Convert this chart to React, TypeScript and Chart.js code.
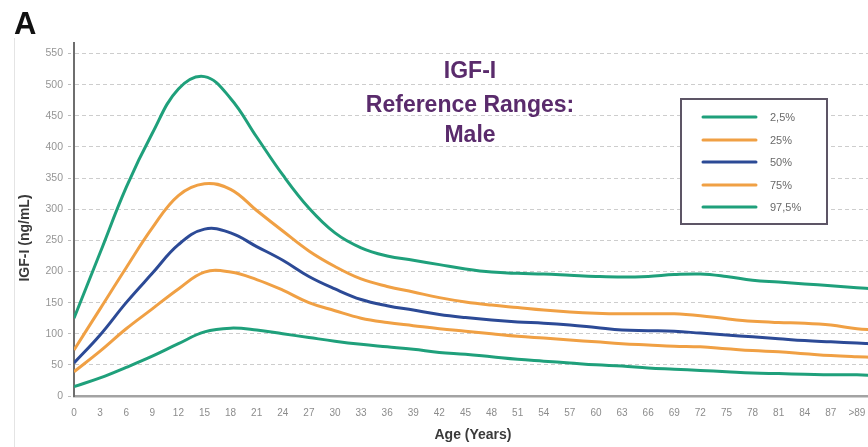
import React, { useEffect, useRef } from "react";
import { Chart, registerables } from "chart.js";

Chart.register(...registerables);

// ---- data ----
const AGES = [0, 3, 6, 9, 12, 15, 18, 21, 24, 27, 30, 33, 36, 39, 42, 45, 48, 51, 54, 57, 60, 63, 66, 69, 72, 75, 78, 81, 84, 87, 90, 92];
const P2_5 = [15, 29, 46, 64, 84, 103, 109, 106, 100, 94, 88, 83, 79, 75, 70, 67, 63, 59, 56, 53, 50, 48, 45, 43, 41, 39, 37, 36, 35, 34, 34, 33];
const P25 = [39, 72, 108, 140, 172, 199, 199, 187, 170, 150, 137, 125, 118, 113, 108, 104, 100, 96, 93, 90, 87, 84, 82, 80, 79, 76, 73, 71, 68, 65, 63, 62];
const P50 = [53, 98, 150, 197, 243, 268, 262, 240, 218, 192, 172, 155, 145, 138, 131, 126, 122, 119, 117, 114, 110, 106, 105, 104, 101, 98, 95, 92, 89, 87, 85, 84];
const P75 = [74, 140, 206, 270, 322, 341, 332, 298, 265, 233, 208, 188, 176, 167, 158, 151, 146, 142, 138, 135, 133, 132, 132, 132, 129, 124, 120, 118, 117, 114, 108, 106];
const P97_5 = [125, 230, 335, 422, 493, 513, 478, 416, 355, 302, 262, 238, 225, 218, 211, 204, 199, 197, 196, 194, 192, 191, 192, 195, 196, 192, 186, 183, 180, 177, 174, 172];

const SERIES_LABELS = ["2,5%", "25%", "50%", "75%", "97,5%"];
const X_TICKS = [0, 3, 6, 9, 12, 15, 18, 21, 24, 27, 30, 33, 36, 39, 42, 45, 48, 51, 54, 57, 60, 63, 66, 69, 72, 75, 78, 81, 84, 87, 90];
const X_TICK_LABELS = ["0", "3", "6", "9", "12", "15", "18", "21", "24", "27", "30", "33", "36", "39", "42", "45", "48", "51", "54", "57", "60", "63", "66", "69", "72", "75", "78", "81", "84", "87", ">89"];
const Y_TICKS = [0, 50, 100, 150, 200, 250, 300, 350, 400, 450, 500, 550];
const TITLE_LINES = ["IGF-I", "Reference Ranges:", "Male"];
const PANEL_LETTER = "A";
const X_TITLE = "Age (Years)";
const Y_TITLE = "IGF-I (ng/mL)";

const GREEN = "#1fa07b";
const ORANGE = "#f0a044";
const BLUE = "#2c4a96";
const FONT = '"Liberation Sans", Arial, sans-serif';

const overlay = {
  id: "overlay",
  afterDraw(chart: any) {
    const ctx = chart.ctx as CanvasRenderingContext2D;
    ctx.save();
    // faint panel edge
    ctx.strokeStyle = "#e4e4e4";
    ctx.lineWidth = 1;
    ctx.beginPath();
    ctx.moveTo(14.5, 38);
    ctx.lineTo(14.5, 447);
    ctx.stroke();

    // panel letter
    ctx.fillStyle = "#111";
    ctx.font = `bold 31px ${FONT}`;
    ctx.textAlign = "left";
    ctx.textBaseline = "alphabetic";
    ctx.fillText(PANEL_LETTER, 14, 34);

    // title
    ctx.fillStyle = "#5a2b6c";
    ctx.font = `bold 23px ${FONT}`;
    ctx.textAlign = "center";
    ctx.textBaseline = "middle";
    const ty = [72, 106, 136];
    TITLE_LINES.forEach((t, i) => ctx.fillText(t, 470, ty[i]));

    // axis titles
    ctx.fillStyle = "#3a3a3a";
    ctx.font = `bold 14px ${FONT}`;
    ctx.fillText(X_TITLE, 473, 435);
    ctx.save();
    ctx.translate(25, 238);
    ctx.rotate(-Math.PI / 2);
    ctx.fillText(Y_TITLE, 0, 0);
    ctx.restore();

    // legend
    const bx = 681, by = 99, bw = 146, bh = 125;
    ctx.fillStyle = "#ffffff";
    ctx.fillRect(bx, by, bw, bh);
    ctx.strokeStyle = "#5d5566";
    ctx.lineWidth = 2;
    ctx.strokeRect(bx, by, bw, bh);
    const rows = [117, 140, 162, 185, 207];
    ctx.font = `11px ${FONT}`;
    ctx.textAlign = "left";
    ctx.textBaseline = "middle";
    chart.data.datasets.forEach((ds: any, i: number) => {
      const y = rows[i];
      ctx.strokeStyle = ds.borderColor;
      ctx.lineWidth = 3;
      ctx.lineCap = "round";
      ctx.beginPath();
      ctx.moveTo(703, y);
      ctx.lineTo(756, y);
      ctx.stroke();
      ctx.fillStyle = "#6a6a6a";
      ctx.fillText(ds.label, 770, y + 1);
    });
    ctx.restore();
  },
};

export default function App() {
  const ref = useRef<HTMLCanvasElement | null>(null);

  useEffect(() => {
    if (!ref.current) return;
    const series = [P2_5, P25, P50, P75, P97_5];
    const colors = [GREEN, ORANGE, BLUE, ORANGE, GREEN];
    const chart = new Chart(ref.current, {
      type: "line",
      data: {
        datasets: series.map((s, i) => ({
          label: SERIES_LABELS[i],
          data: AGES.map((a, j) => ({ x: a, y: s[j] })),
          borderColor: colors[i],
          backgroundColor: colors[i],
          borderWidth: 3,
          pointRadius: 0,
          tension: 0.4,
          fill: false,
        })),
      },
      options: {
        animation: false,
        responsive: false,
        devicePixelRatio: 1,
        layout: { padding: { top: 43, right: 10, left: 0, bottom: 0 } },
        plugins: { legend: { display: false }, tooltip: { enabled: false }, title: { display: false } },
        scales: {
          x: {
            type: "linear",
            min: 0,
            max: 98.4,
            grid: { display: false, drawTicks: false },
            border: { display: true, color: "#a3a3a3", width: 2.5 },
            ticks: {
              padding: 11,
              color: "#8c8c8c",
              font: { size: 10, family: FONT },
              maxRotation: 0,
              autoSkip: false,
              callback: (v: any) => {
                const k = X_TICKS.indexOf(Number(v));
                return k >= 0 ? X_TICK_LABELS[k] : "";
              },
            },
            afterBuildTicks: (s: any) => {
              s.ticks = X_TICKS.map((v) => ({ value: v }));
            },
            afterFit: (s: any) => {
              s.height = 51;
            },
          },
          y: {
            type: "linear",
            min: 0,
            max: 567,
            grid: {
              color: "#cdcdcd",
              lineWidth: 1,
              tickLength: 6,
              tickColor: "#bdbdbd",
              tickBorderDash: [3, 2],
            },
            border: { display: true, color: "#6e6e6e", width: 2, dash: [4, 3] },
            ticks: {
              padding: 5,
              color: "#959595",
              font: { size: 10.5, family: FONT },
              autoSkip: false,
            },
            afterBuildTicks: (s: any) => {
              s.ticks = Y_TICKS.map((v) => ({ value: v }));
            },
            afterFit: (s: any) => {
              s.width = 74;
            },
          },
        },
      },
      plugins: [overlay],
    });
    return () => chart.destroy();
  }, []);

  return (
    <div
      style={{
        position: "absolute",
        left: 0,
        top: 0,
        width: 868,
        height: 447,
        overflow: "hidden",
        background: "#fff",
      }}
    >
      <canvas ref={ref} width={940} height={447} style={{ width: 940, height: 447, display: "block" }} />
    </div>
  );
}
